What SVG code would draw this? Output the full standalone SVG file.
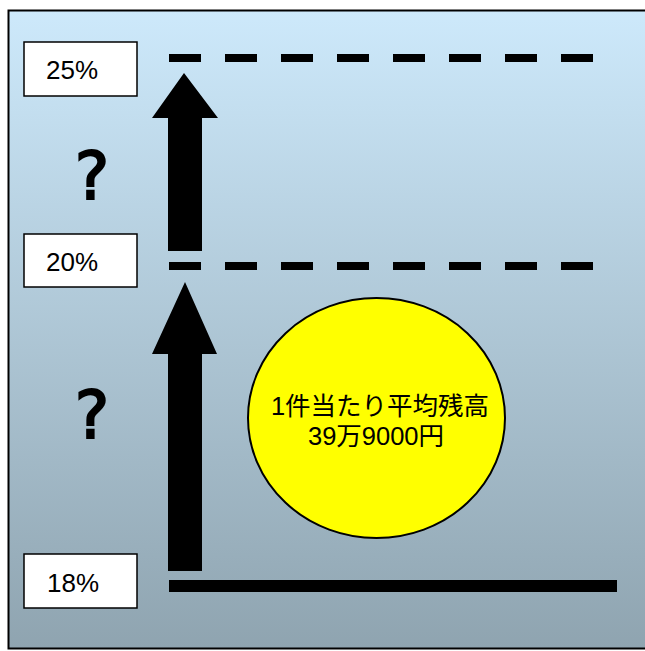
<svg xmlns="http://www.w3.org/2000/svg" width="645" height="651" viewBox="0 0 645 651">
<defs>
<linearGradient id="bg" x1="0" y1="0" x2="0" y2="1">
<stop offset="0" stop-color="#cde9fb"/>
<stop offset="1" stop-color="#8fa4b0"/>
</linearGradient>
<style>
.box{fill:#fff;stroke:#000;stroke-width:1.5}
.lbl{font-family:"Liberation Sans",Arial,sans-serif;font-size:26px;fill:#000}
.q{font-family:"DejaVu Sans",sans-serif;font-size:65px;fill:#000;stroke:#000;stroke-width:2;text-anchor:middle}
.dash{stroke:#000;stroke-width:8;stroke-dasharray:32 24;fill:none}
.jp{font-family:"Liberation Sans","Noto Sans CJK JP",sans-serif;font-size:25.5px;fill:#000;text-anchor:middle}
</style>
</defs>
<rect x="8.5" y="10.5" width="700" height="638" fill="url(#bg)" stroke="#000" stroke-width="2"/>
<g id="connectors">
<line class="dash" x1="169" y1="58" x2="600" y2="58"/>
<line class="dash" x1="169" y1="266" x2="600" y2="266"/>
<rect x="169" y="580" width="448" height="12" fill="#000"/>
<polygon points="184,73 218,118 202,118 202,251 168,251 168,118 152,118" fill="#000"/>
<polygon points="185,282 217,354 202,354 202,571 168,571 168,354 152,354" fill="#000"/>
</g>
<g id="label25">
<rect class="box" x="24" y="42" width="113" height="54"/>
<text class="lbl" x="46" y="79">25%</text>
</g>
<g id="label20">
<rect class="box" x="24" y="234" width="113" height="53"/>
<text class="lbl" x="46" y="271">20%</text>
</g>
<g id="label18">
<rect class="box" x="24" y="554" width="113" height="54"/>
<text class="lbl" x="47" y="592">18%</text>
</g>
<g id="q1"><text class="q" x="92" y="199">?</text></g>
<g id="q2"><text class="q" x="92" y="438">?</text></g>
<g id="circle">
<ellipse cx="376.5" cy="418" rx="128.5" ry="120" fill="#ffff00" stroke="#000" stroke-width="2"/>
<text class="jp" x="380" y="415">1件当たり平均残高</text>
<text class="jp" x="376" y="445">39万9000円</text>
</g>
</svg>
